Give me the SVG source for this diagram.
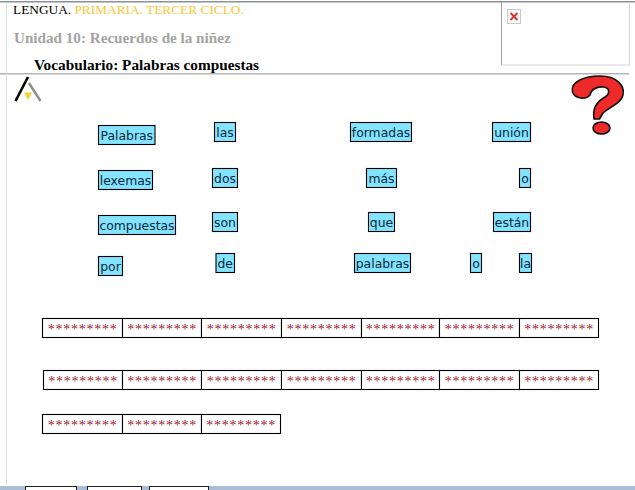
<svg xmlns="http://www.w3.org/2000/svg" width="635" height="490" viewBox="0 0 635 490">
<style>
.w rect{fill:#84e3ff;stroke:#000;stroke-width:1.100}
.w text{font:12.400px "DejaVu Sans",sans-serif;fill:#0b2a3a;text-anchor:middle}
.s rect{fill:#fff;stroke:#000;stroke-width:1.100}
.s text{font:14px "Liberation Serif",serif;fill:#a01c30;text-anchor:middle;letter-spacing:.75px}
.h{font-family:"Liberation Serif",serif}
.tab{fill:#fff;stroke:#222;stroke-width:1}
</style>
<rect width="635" height="490" fill="#fff"/>
<g id="chrome">
<rect x="0" y="1" width="635" height="1.500" fill="#8a8f98"/>
<rect x="0" y="73" width="629" height="1.500" fill="#b4b4b4"/>
<rect x="6" y="2" width="1" height="483" fill="#dcdcdc"/>
<path d="M501.500 2V65" fill="none" stroke="#a0a0a0"/>
<path d="M501.500 65H629.500V2" fill="none" stroke="#d4d4d4"/>
<rect x="507.500" y="9.500" width="13" height="14" fill="#fff" stroke="#c8c8c8"/>
<path d="M510.500 13L517.500 20M517.500 13L510.500 20" stroke="#d8352a" stroke-width="2"/>
<rect x="0" y="486" width="635" height="4" fill="#a9bdd8"/>
<rect class="tab" x="25.500" y="486.500" width="51" height="6"/>
<rect class="tab" x="87.500" y="486.500" width="54" height="6"/>
<rect class="tab" x="149.500" y="486.500" width="59" height="6"/>
</g>
<g id="header">
<text class="h" x="13" y="14" font-size="13.330"><tspan fill="#000">LENGUA. </tspan><tspan fill="#f9c636">PRIMARIA. TERCER CICLO.</tspan></text>
<text class="h" x="14" y="43" font-size="15.150" font-weight="bold" fill="#a3a3a3">Unidad 10: Recuerdos de la niñez</text>
<text class="h" x="34" y="70" font-size="15.270" font-weight="bold" fill="#000">Vocabulario: Palabras compuestas</text>
</g>
<g id="logo">
<path d="M15.500 101L28 77" stroke="#000" stroke-width="2.600" fill="none"/>
<path d="M29 83L40.500 101" stroke="#8d8d85" stroke-width="2.400" fill="none"/>
<path d="M24 92.500H32L28 100Z" fill="#f7cf2e"/>
</g>
<g id="question">
<path d="M572.500 92C570 82 584 76 600 76C617 76 625 86 623 95C621 104 609 107 603 113L599.500 119L594 119C592.500 110 596 102 605 97C610 94 610 88 604 87C596 86 591 90 590 95C586 100 575 99 572.500 92Z" fill="#ee2a2a" stroke="#111" stroke-width="1.600" stroke-linejoin="round"/>
<ellipse cx="601.500" cy="128" rx="8.500" ry="6" fill="#ee2a2a" stroke="#111" stroke-width="1.600"/>
</g>
<g id="w1" class="w"><rect x="98.500" y="125.500" width="56.500" height="19"/><text x="126.800" y="140">Palabras</text></g>
<g id="w2" class="w"><rect x="214.500" y="122.500" width="21" height="19"/><text x="225" y="137">las</text></g>
<g id="w3" class="w"><rect x="350.500" y="122.500" width="61" height="19"/><text x="381" y="137">formadas</text></g>
<g id="w4" class="w"><rect x="492.500" y="122.500" width="38" height="19"/><text x="511.500" y="137">unión</text></g>
<g id="w5" class="w"><rect x="98.500" y="170.500" width="54" height="19"/><text x="125.500" y="185">lexemas</text></g>
<g id="w6" class="w"><rect x="212.500" y="168.500" width="25" height="19"/><text x="225" y="183">dos</text></g>
<g id="w7" class="w"><rect x="366.500" y="168.500" width="30" height="19"/><text x="381.500" y="183">más</text></g>
<g id="w8" class="w"><rect x="519.500" y="168.500" width="11" height="19"/><text x="525" y="183">o</text></g>
<g id="w9" class="w"><rect x="98.500" y="215.500" width="77" height="19"/><text x="137" y="230">compuestas</text></g>
<g id="w10" class="w"><rect x="212.500" y="212.500" width="25" height="19"/><text x="225" y="227">son</text></g>
<g id="w11" class="w"><rect x="368.500" y="212.500" width="26" height="19"/><text x="381.500" y="227">que</text></g>
<g id="w12" class="w"><rect x="493.500" y="212.500" width="37" height="19"/><text x="512" y="227">están</text></g>
<g id="w13" class="w"><rect x="98.500" y="256.500" width="24" height="19"/><text x="110.500" y="271">por</text></g>
<g id="w14" class="w"><rect x="216" y="253.500" width="18.500" height="19"/><text x="225.200" y="268">de</text></g>
<g id="w15" class="w"><rect x="354.500" y="253.500" width="56" height="19"/><text x="382.500" y="268">palabras</text></g>
<g id="w16" class="w"><rect x="470.500" y="253.500" width="11" height="19"/><text x="476" y="268">o</text></g>
<g id="w17" class="w"><rect x="519.500" y="253.500" width="12" height="19"/><text x="525.500" y="268">la</text></g>
<g id="a1" class="s"><rect x="42.500" y="318.500" width="80" height="19"/><text x="82.500" y="334">*********</text></g>
<g id="a2" class="s"><rect x="122.500" y="318.500" width="79" height="19"/><text x="162" y="334">*********</text></g>
<g id="a3" class="s"><rect x="201.500" y="318.500" width="80" height="19"/><text x="241.500" y="334">*********</text></g>
<g id="a4" class="s"><rect x="281.500" y="318.500" width="80" height="19"/><text x="321.500" y="334">*********</text></g>
<g id="a5" class="s"><rect x="361.500" y="318.500" width="78" height="19"/><text x="400.500" y="334">*********</text></g>
<g id="a6" class="s"><rect x="439.500" y="318.500" width="80" height="19"/><text x="479.500" y="334">*********</text></g>
<g id="a7" class="s"><rect x="519.500" y="318.500" width="79" height="19"/><text x="559" y="334">*********</text></g>
<g id="b1" class="s"><rect x="43.500" y="370.500" width="79" height="19"/><text x="83" y="386">*********</text></g>
<g id="b2" class="s"><rect x="122.500" y="370.500" width="79" height="19"/><text x="162" y="386">*********</text></g>
<g id="b3" class="s"><rect x="201.500" y="370.500" width="80" height="19"/><text x="241.500" y="386">*********</text></g>
<g id="b4" class="s"><rect x="281.500" y="370.500" width="80" height="19"/><text x="321.500" y="386">*********</text></g>
<g id="b5" class="s"><rect x="361.500" y="370.500" width="78" height="19"/><text x="400.500" y="386">*********</text></g>
<g id="b6" class="s"><rect x="439.500" y="370.500" width="80" height="19"/><text x="479.500" y="386">*********</text></g>
<g id="b7" class="s"><rect x="519.500" y="370.500" width="79" height="19"/><text x="559" y="386">*********</text></g>
<g id="c1" class="s"><rect x="42.500" y="414.500" width="80" height="19"/><text x="82.500" y="430">*********</text></g>
<g id="c2" class="s"><rect x="122.500" y="414.500" width="79" height="19"/><text x="162" y="430">*********</text></g>
<g id="c3" class="s"><rect x="201.500" y="414.500" width="79" height="19"/><text x="241" y="430">*********</text></g>
<g id="connectors"></g>
</svg>
